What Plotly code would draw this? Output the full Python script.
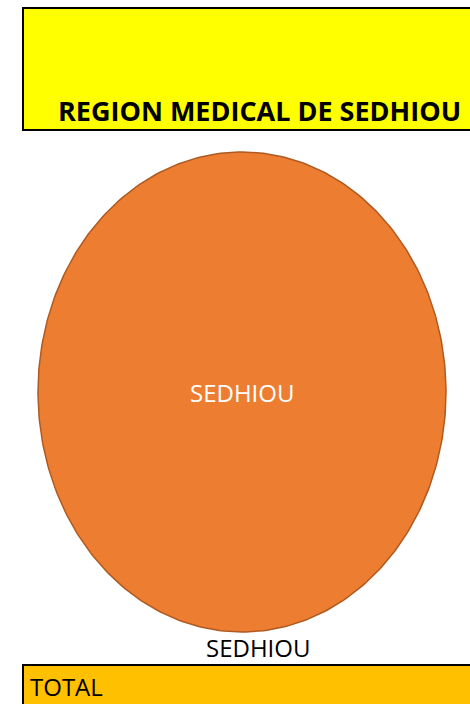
import numpy as np
import plotly.graph_objects as go

# Data
categories = ["SEDHIOU"]
values = [100]
title_text = "REGION MEDICAL DE SEDHIOU"
axis_label = "SEDHIOU"
total_label = "TOTAL"

W, H = 470, 704
slice_colors = ["#ED7D31"]
slice_line = "#AE5A21"

cx, cy, rx, ry = 242, 392, 204, 240

fig = go.Figure()

total = sum(values)
start = 0.0
for cat, val, col in zip(categories, values, slice_colors):
    frac = val / total
    t = np.linspace(start, start + frac * 2 * np.pi, 361)
    xs = cx + rx * np.sin(t)
    ys = cy - ry * np.cos(t)
    if frac < 0.999:
        xs = np.concatenate([[cx], xs, [cx]])
        ys = np.concatenate([[cy], ys, [cy]])
    fig.add_trace(go.Scatter(x=xs, y=ys, mode="lines", fill="toself",
                             fillcolor=col, line=dict(color=slice_line, width=1.5),
                             hoverinfo="text", text=cat, showlegend=False))
    mid = start + frac * np.pi
    lx = cx + (0 if frac >= 0.999 else rx * 0.6 * np.sin(mid))
    ly = cy - (0 if frac >= 0.999 else ry * 0.6 * np.cos(mid))
    fig.add_annotation(x=lx, y=ly, text=cat, showarrow=False,
                       font=dict(family="Open Sans", size=24, color="white"))
    start += frac * 2 * np.pi

shapes = [
    dict(type="rect", x0=23, x1=473, y0=8, y1=130, fillcolor="#FFFF00",
         line=dict(color="black", width=2), layer="below"),
    dict(type="rect", x0=23, x1=473, y0=665, y1=708, fillcolor="#FFC000",
         line=dict(color="black", width=2), layer="below"),
]

fig.add_annotation(x=259, y=110, text="<b>" + title_text + "</b>", showarrow=False,
                   font=dict(family="Open Sans", size=27, color="black"))
fig.add_annotation(x=258, y=647, text=axis_label, showarrow=False,
                   font=dict(family="Open Sans", size=24, color="black"))
fig.add_annotation(x=28, y=686, text=total_label, showarrow=False, xanchor="left",
                   font=dict(family="Open Sans", size=24, color="black"))

fig.update_layout(
    width=W, height=H, margin=dict(l=0, r=0, t=0, b=0),
    paper_bgcolor="white", plot_bgcolor="white",
    shapes=shapes,
    xaxis=dict(range=[0, W], visible=False, fixedrange=True),
    yaxis=dict(range=[H, 0], visible=False, fixedrange=True),
)

fig.write_html("out.html")
